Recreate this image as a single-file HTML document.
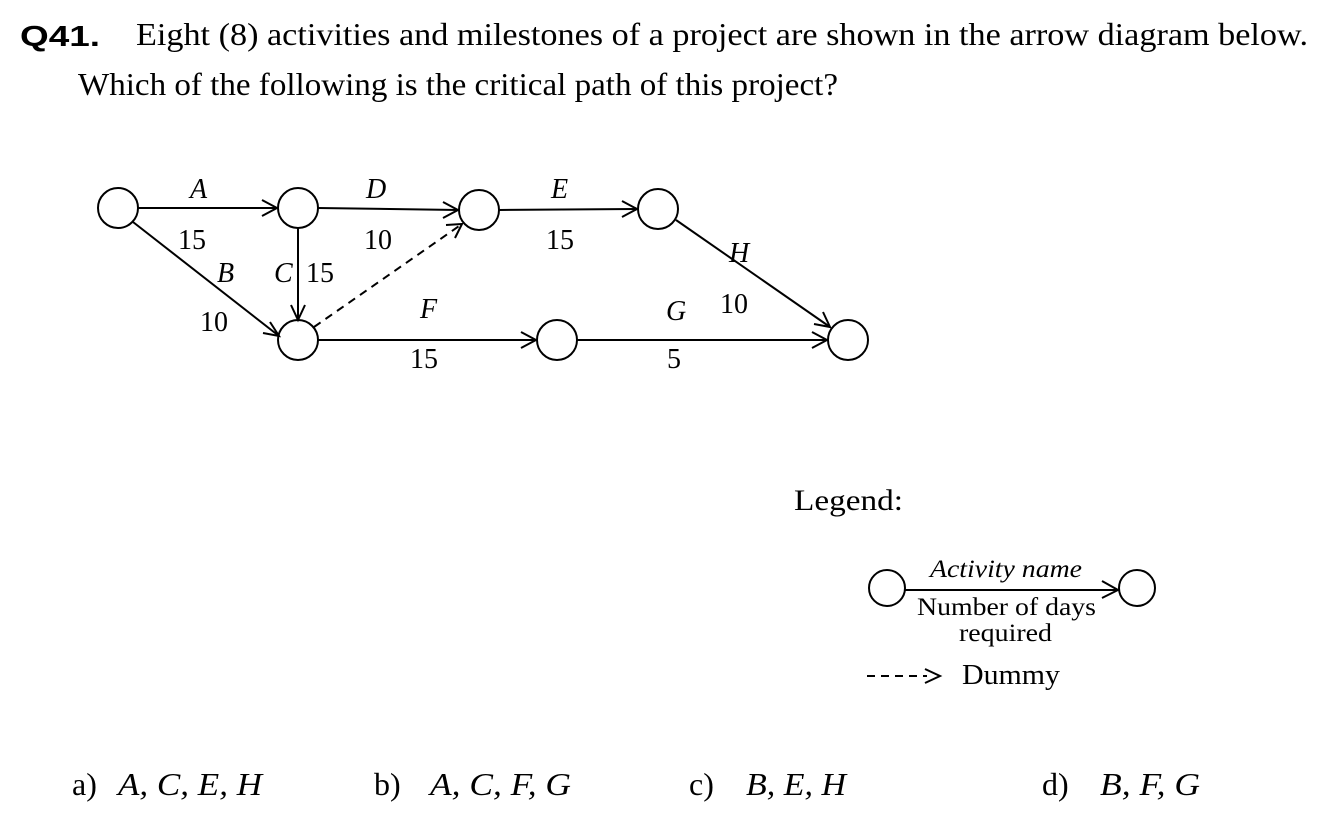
<!DOCTYPE html>
<html><head><meta charset="utf-8"><style>
body{margin:0;background:#fff;width:1327px;height:821px;overflow:hidden}
svg{display:block}
text{font-family:"Liberation Serif",serif;fill:#000}
.i{font-style:italic}
</style></head><body>
<svg width="1327" height="821" viewBox="0 0 1327 821">
<text x="20" y="46" style="font-family:'Liberation Sans',sans-serif;font-weight:bold" font-size="29" textLength="80" lengthAdjust="spacingAndGlyphs">Q41.</text>
<text x="136" y="45" font-size="32" textLength="1172" lengthAdjust="spacingAndGlyphs">Eight (8) activities and milestones of a project are shown in the arrow diagram below.</text>
<text x="78" y="95" font-size="32" textLength="760" lengthAdjust="spacingAndGlyphs">Which of the following is the critical path of this project?</text>
<g stroke="#000" stroke-width="2" fill="none">
<circle cx="118" cy="208" r="20"/><circle cx="298" cy="208" r="20"/><circle cx="479" cy="210" r="20"/><circle cx="658" cy="209" r="20"/>
<circle cx="298" cy="340" r="20"/><circle cx="557" cy="340" r="20"/><circle cx="848" cy="340" r="20"/>
<line x1="138" y1="208" x2="277" y2="208"/><path d="M262 200 L277 208 L262 216"/>
<line x1="318" y1="208" x2="458" y2="210"/><path d="M443 202 L458 210 L443 218"/>
<line x1="499" y1="210" x2="637" y2="209"/><path d="M622 201 L637 209 L622 217"/>
<line x1="133" y1="222" x2="279" y2="336"/><path d="M270 322 L279 336 L263 333"/>
<line x1="298" y1="228" x2="298" y2="320"/><path d="M291 305 L298 320 L305 305"/>
<line x1="314" y1="327" x2="462" y2="224" stroke-dasharray="8,6"/><path d="M446 225 L462 224 L455 238"/>
<line x1="318" y1="340" x2="536" y2="340"/><path d="M521 332 L536 340 L521 348"/>
<line x1="577" y1="340" x2="827" y2="340"/><path d="M812 332 L827 340 L812 348"/>
<line x1="676" y1="220" x2="830" y2="327"/><path d="M814 324 L830 327 L823 312"/>
<circle cx="887" cy="588" r="18"/><circle cx="1137" cy="588" r="18"/>
<line x1="905" y1="590" x2="1118" y2="590"/><path d="M1102 581 L1118 590 L1102 598"/>
<line x1="867" y1="676" x2="927" y2="676" stroke-dasharray="8,6"/><path d="M925 669 L940 676 L925 683"/>
</g>
<g font-size="28">
<text x="190" y="198" class="i">A</text><text x="178" y="249">15</text>
<text x="366" y="198" class="i">D</text><text x="364" y="249">10</text>
<text x="551" y="198" class="i">E</text><text x="546" y="249">15</text>
<text x="217" y="282" class="i">B</text><text x="200" y="331">10</text>
<text x="274" y="282" class="i">C</text><text x="306" y="282">15</text>
<text x="420" y="318" class="i">F</text><text x="410" y="368">15</text>
<text x="666" y="320" class="i">G</text><text x="720" y="313">10</text><text x="667" y="368">5</text>
<text x="729" y="262" class="i">H</text>
</g>
<text x="794" y="510" font-size="30" textLength="109" lengthAdjust="spacingAndGlyphs">Legend:</text>
<text x="930" y="577" font-size="25" class="i" textLength="152" lengthAdjust="spacingAndGlyphs">Activity name</text>
<text x="917" y="615" font-size="25" textLength="179" lengthAdjust="spacingAndGlyphs">Number of days</text>
<text x="959" y="641" font-size="25" textLength="93" lengthAdjust="spacingAndGlyphs">required</text>
<text x="962" y="684" font-size="29" textLength="98" lengthAdjust="spacingAndGlyphs">Dummy</text>
<g font-size="32">
<text x="72" y="795">a)</text><text x="118" y="795" class="i" textLength="144" lengthAdjust="spacingAndGlyphs">A, C, E, H</text>
<text x="374" y="795">b)</text><text x="430" y="795" class="i" textLength="141" lengthAdjust="spacingAndGlyphs">A, C, F, G</text>
<text x="689" y="795">c)</text><text x="746" y="795" class="i" textLength="100" lengthAdjust="spacingAndGlyphs">B, E, H</text>
<text x="1042" y="795">d)</text><text x="1100" y="795" class="i" textLength="100" lengthAdjust="spacingAndGlyphs">B, F, G</text>
</g>
</svg>
</body></html>
